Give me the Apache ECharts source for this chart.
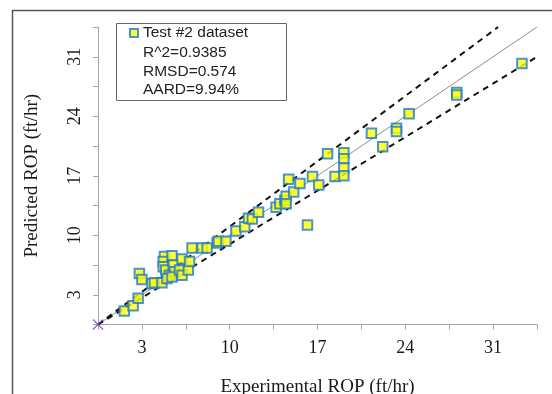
<!DOCTYPE html>
<html><head><meta charset="utf-8">
<script src="https://cdn.jsdelivr.net/npm/echarts@6/dist/echarts.min.js"></script>
<style>html,body{margin:0;padding:0;background:#fff}#c{width:552px;height:394px}</style>
</head><body><div id="c"></div>
<script>
const seriesName = 'Test #2 dataset';
const statLines = ['R^2=0.9385', 'RMSD=0.574', 'AARD=9.94%'];
const tickLabels = [3, 10, 17, 24, 31];
const expX = [1.6,2.3,2.7,2.8,3.0,3.8,4.0,4.6,4.8,4.7,4.7,4.9,5.2,5.0,5.4,5.5,5.6,5.4,6.2,6.0,6.2,6.7,6.8,7.0,7.8,8.2,9.0,9.1,9.7,10.5,11.2,11.5,11.8,12.3,13.7,14.0,14.4,14.5,14.5,14.7,15.1,15.6,16.2,16.6,17.1,17.8,18.4,19.1,19.1,19.1,19.1,21.3,22.2,23.3,23.3,24.3,28.1,28.1,33.3];
const predY = [1.1,1.7,2.6,5.5,4.8,4.3,4.4,4.4,7.5,6.9,6.3,5.9,5.3,4.9,7.6,6.5,5.7,5.1,7.2,5.9,5.3,5.9,6.9,8.5,8.5,8.5,9.1,9.3,9.3,10.5,11.0,12.0,11.9,12.7,13.3,13.7,14.1,14.6,13.7,16.6,15.1,16.1,11.2,16.9,15.9,19.6,16.9,19.7,19.0,17.9,17.0,22.0,20.4,22.6,22.2,24.3,26.8,26.5,30.2];
const unityLine = [[-0.5,-0.5],[34.5,34.5]];
const upperLine = [[-0.5,-0.5],[31.4,34.5]];
const lowerLine = [[-0.5,-0.5],[34.5,31.0]];
const originPt = [[-0.5,-0.5]];

const pts = expX.map((x,i)=>[x,predY[i]]);
const fmt = v => { const t = tickLabels.find(t => Math.abs(t - v) < 1e-6); return t === undefined ? '' : String(t); };
const serif = '"Liberation Serif","DejaVu Serif",serif';
const sans = '"Liberation Sans","Noto Sans",sans-serif';
const axisCommon = {
  min: -0.5, max: 34.5, interval: 3.5,
  splitLine: {show:false},
  axisLine: {onZero:false, lineStyle:{color:'#a6a6a6', width:1}},
  axisTick: {show:true, length:5, lineStyle:{color:'#a6a6a6'}},
};
const chart = echarts.init(document.getElementById('c'), null, {renderer:'canvas'});
chart.setOption({
  animation:false,
  backgroundColor:'#fff',
  grid:{left:98, right:15, top:27, bottom:69.5, containLabel:false, outerBoundsMode:'none'},
  xAxis: Object.assign({}, axisCommon, {
    type:'value',
    name:'Experimental ROP (ft/hr)', nameLocation:'middle', nameGap:53,
    nameTextStyle:{fontFamily:serif, fontSize:19, color:'#1a1a1a'},
    axisLabel:{formatter:fmt, fontFamily:serif, fontSize:18, color:'#1a1a1a', margin:15}
  }),
  yAxis: Object.assign({}, axisCommon, {
    type:'value',
    name:'Predicted ROP (ft/hr)', nameLocation:'middle', nameGap:56,
    nameTextStyle:{fontFamily:serif, fontSize:19, color:'#1a1a1a'},
    axisLabel:{formatter:fmt, fontFamily:serif, fontSize:18, color:'#1a1a1a', rotate:90, margin:14}
  }),
  legend:{
    data:[seriesName], left:129, top:25, itemWidth:8, itemHeight:8, itemGap:4,
    textStyle:{fontFamily:sans, fontSize:15.5, color:'#222'}, padding:0,
    selectedMode:false
  },
  graphic:[
    {type:'rect', shape:{x:12.5, y:10.5, width:700, height:500}, style:{fill:null, stroke:'#555', lineWidth:1.5}, silent:true},
    {type:'rect', shape:{x:116.5, y:23.5, width:170, height:77}, style:{fill:'#fff', stroke:'#666', lineWidth:1}, z:1},
  ].concat(statLines.map((s,i)=>({type:'text', left:143, top:45+i*18.4, z:2,
      style:{text:s, font:'15.5px '+sans, fill:'#222'}}))),
  series:[
    {type:'line', data:unityLine, symbol:'none', lineStyle:{color:'#8c8c8c', width:1}, silent:true, z:2},
    {type:'line', data:upperLine, symbol:'none', lineStyle:{color:'#111', width:2, type:[6,5]}, silent:true, z:2},
    {type:'line', data:lowerLine, symbol:'none', lineStyle:{color:'#111', width:2, type:[6,5]}, silent:true, z:2},
    {type:'scatter', data:originPt, symbol:'path://M0,0L10,10M10,0L0,10', symbolSize:10,
      itemStyle:{color:'none', borderColor:'#7a4fb0', borderWidth:1.5}, silent:true, z:3},
    {type:'scatter', name:seriesName, data:pts, symbol:'rect', symbolSize:9.5,
      itemStyle:{color:'#ffff00', borderColor:'#1f78d1', borderWidth:2}, z:4}
  ]
});
</script></body></html>
